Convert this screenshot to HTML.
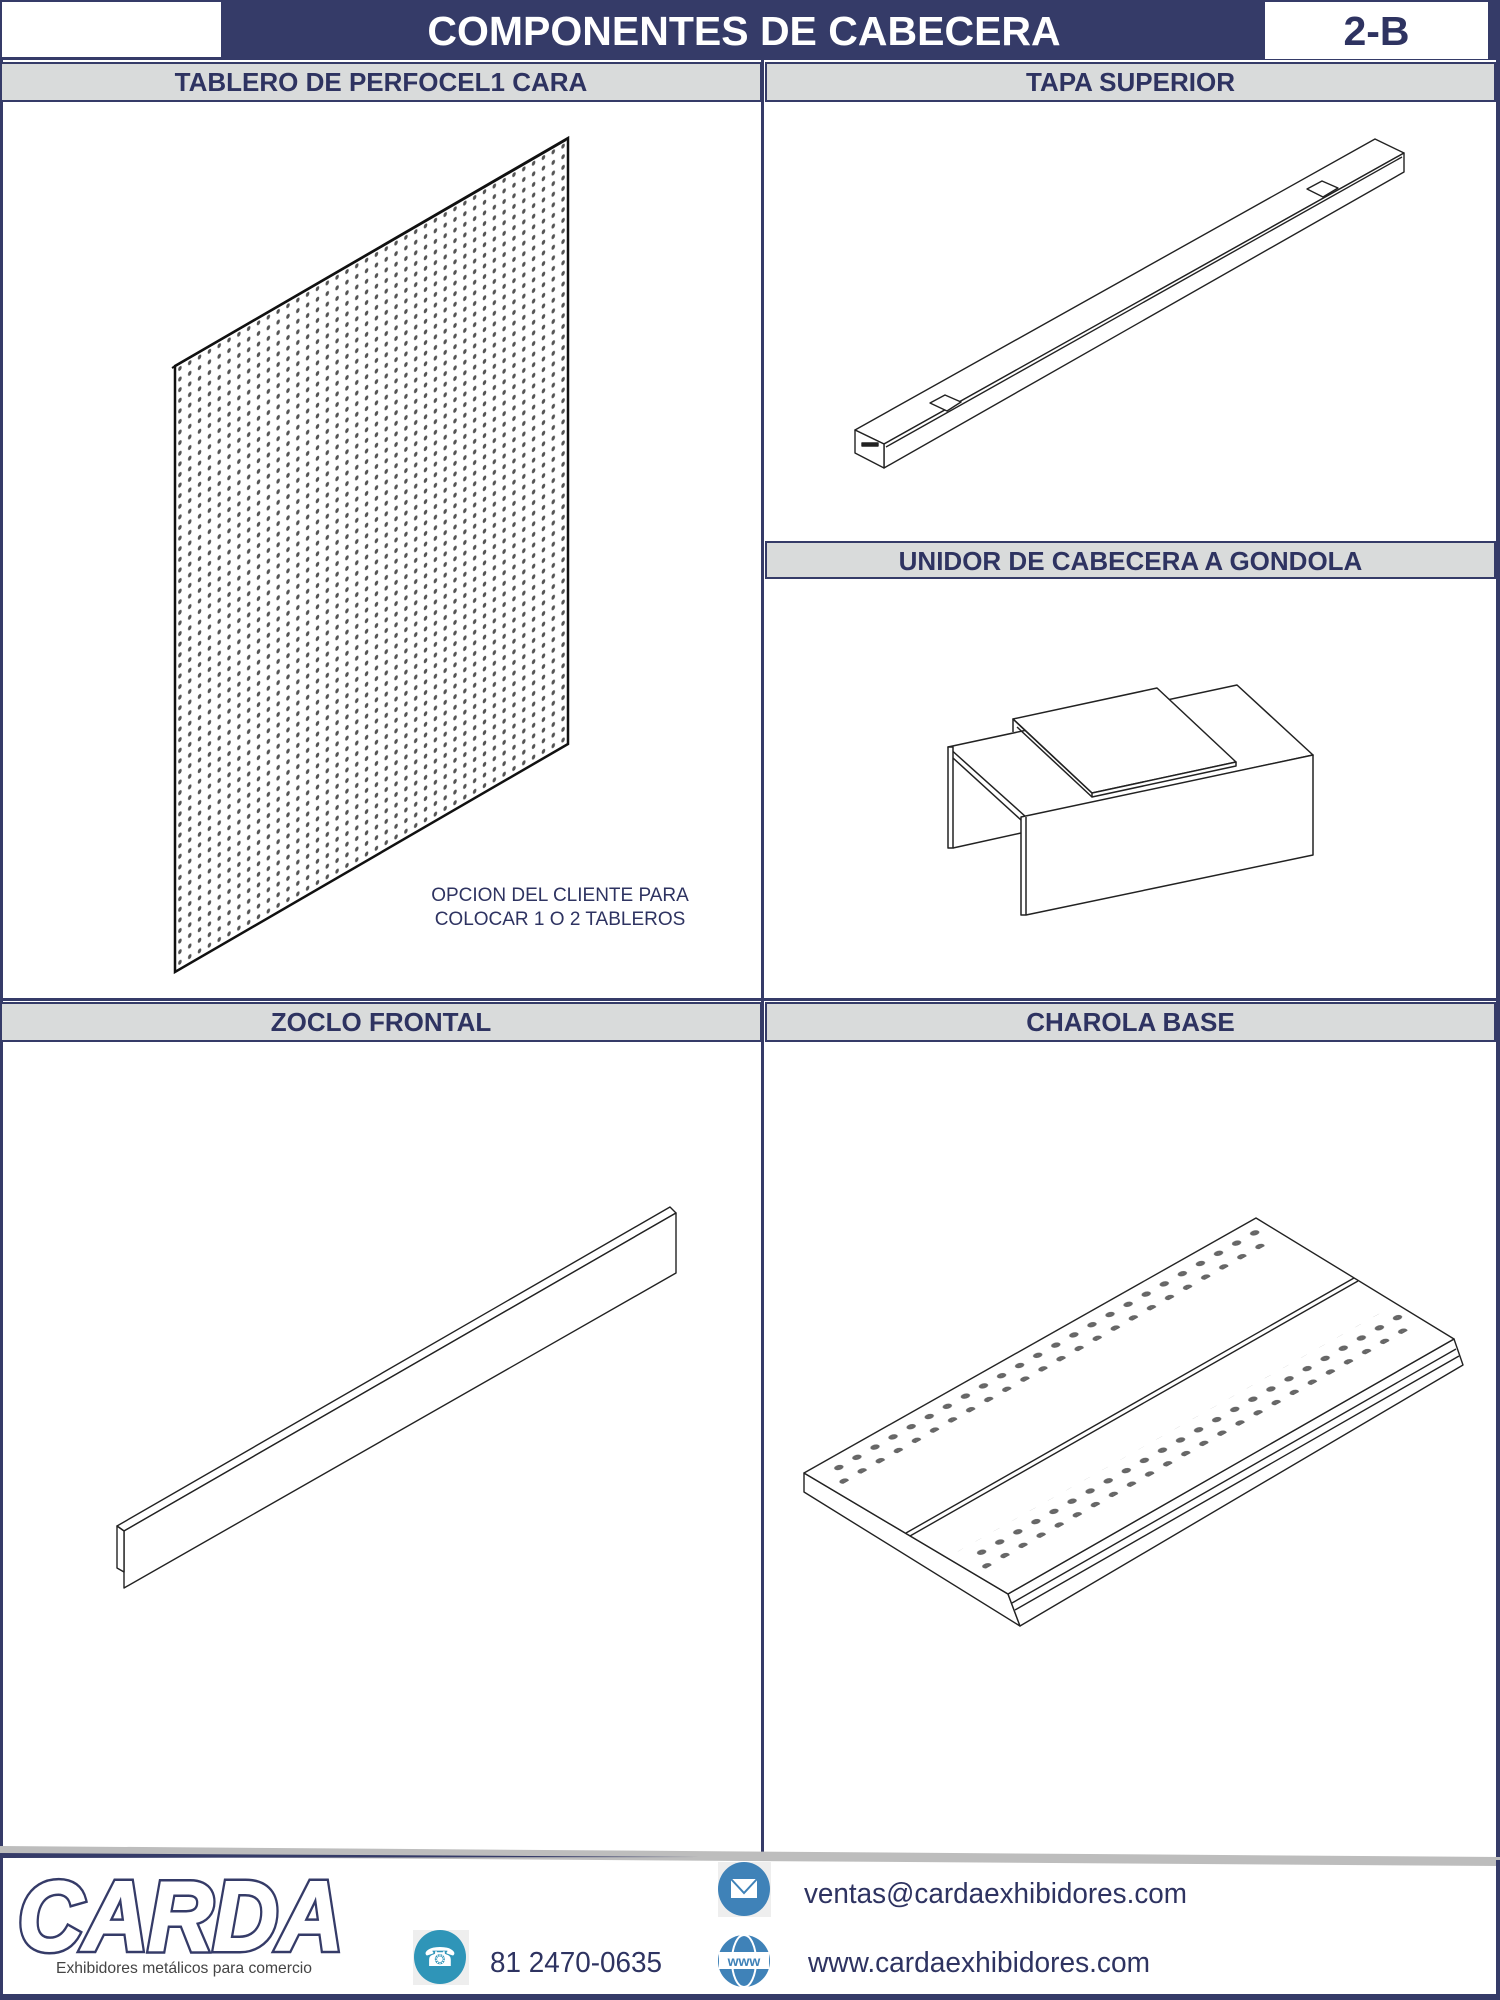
<!DOCTYPE html>
<html><head><meta charset="utf-8"><style>
html,body{margin:0;padding:0;background:#fff;}
body{width:1500px;height:2000px;position:relative;overflow:hidden;font-family:"Liberation Sans",sans-serif;}
.abs{position:absolute;}
.hdr{position:absolute;background:#d9dbdb;border:2px solid #353b68;box-sizing:border-box;color:#2e3361;font-weight:bold;font-size:26px;text-align:center;line-height:36px;}
</style></head><body>
<div class="abs" style="left:0;top:0;width:1500px;height:60px;background:#353b68;"></div>
<div class="abs" style="left:2px;top:2px;width:219px;height:55px;background:#fff;"></div>
<div class="abs" style="left:1265px;top:2px;width:223px;height:57px;background:#fff;"></div>
<div class="abs" style="left:223px;top:0;width:1042px;height:60px;color:#fff;font-weight:bold;font-size:41px;line-height:62px;text-align:center;">COMPONENTES DE CABECERA</div>
<div class="abs" style="left:1265px;top:0;width:223px;height:60px;color:#2e3361;font-weight:bold;font-size:41px;line-height:62px;text-align:center;">2-B</div>

<div class="abs" style="left:0;top:60px;width:3px;height:1792px;background:#353b68;"></div>
<div class="abs" style="left:1496px;top:60px;width:4px;height:1800px;background:#353b68;"></div>
<div class="abs" style="left:761px;top:60px;width:3px;height:1792px;background:#353b68;"></div>
<div class="abs" style="left:0;top:998px;width:1500px;height:3px;background:#353b68;"></div>

<div class="hdr" style="left:0;top:62px;width:762px;height:40px;">TABLERO DE PERFOCEL1 CARA</div>
<div class="hdr" style="left:765px;top:62px;width:731px;height:40px;">TAPA SUPERIOR</div>
<div class="hdr" style="left:765px;top:541px;width:731px;height:38px;">UNIDOR DE CABECERA A GONDOLA</div>
<div class="hdr" style="left:0;top:1002px;width:762px;height:40px;">ZOCLO FRONTAL</div>
<div class="hdr" style="left:765px;top:1002px;width:731px;height:40px;">CHAROLA BASE</div>

<div class="abs" style="left:380px;top:884px;width:360px;color:#2e3361;font-size:19px;line-height:24px;text-align:center;">OPCION DEL CLIENTE PARA<br>COLOCAR 1 O 2 TABLEROS</div>

<svg class="abs" style="left:0;top:0" width="1500" height="2000" viewBox="0 0 1500 2000">
<defs>
<pattern id="pf" patternUnits="userSpaceOnUse" width="2.5" height="1.75">
<ellipse cx="1.25" cy="0.87" rx="0.45" ry="0.38" fill="#555"/>
</pattern>
<pattern id="pc" patternUnits="userSpaceOnUse" width="4" height="14">
<ellipse cx="1" cy="6" rx="0.42" ry="0.95" fill="#fff" stroke="#666" stroke-width="0.8" vector-effect="non-scaling-stroke"/>
<ellipse cx="3" cy="13" rx="0.42" ry="0.95" fill="#fff" stroke="#666" stroke-width="0.8" vector-effect="non-scaling-stroke"/>
</pattern>
</defs>
<g transform="matrix(3.93,-2.28,0,6.06,175,366)">
<polygon points="0,0 100,0 100,100 0,100" fill="#fff"/>
<rect x="0.5" y="0.5" width="99" height="99" fill="url(#pf)"/>
<polygon points="0,0 100,0 100,100 0,100" fill="none" stroke="#111" stroke-width="2.5" vector-effect="non-scaling-stroke"/>
</g>
<line x1="172" y1="368" x2="566" y2="140" stroke="#111" stroke-width="2"/>

<g fill="#fff" stroke="#222" stroke-width="1.4" stroke-linejoin="round">
<polygon points="855,430 1375,139 1404,153 884,444"/>
<polygon points="884,444 1404,153 1404,172 884,468"/>
<polygon points="855,430 884,444 884,468 855,453"/>
<line x1="886" y1="447" x2="1402" y2="157"/>
<polygon points="930,403 945,395 961,402 947,411" />
<polygon points="1307,189 1322,181 1338,188 1323,197" />
<rect x="862" y="443" width="16" height="3" fill="#222"/>
</g>

<g fill="#fff" stroke="#222" stroke-width="1.5" stroke-linejoin="round">
<polygon points="948,747 1237,685 1313,755 1026,817"/>
<polygon points="1021,817 1313,755 1313,855 1026,915 1021,915"/>
<line x1="1026" y1="817" x2="1026" y2="915"/>
<polygon points="948,747 953,747 953,848 948,848"/>
<polyline points="953,758 1021,820" fill="none"/>
<polyline points="953,848 1021,833" fill="none"/>
<polygon points="1013,719 1157,688 1236,762 1092,793"/>
<polygon points="1013,719 1092,793 1092,797 1236,766 1236,762 1092,793" />
<polyline points="1013,719 1013,732" fill="none"/>
<polyline points="1017,727 1092,797" fill="none"/>
</g>

<g fill="#fff" stroke="#222" stroke-width="1.4" stroke-linejoin="round">
<polygon points="117,1526 670,1207 676,1213 124,1531"/>
<polygon points="124,1531 676,1213 676,1273 124,1588"/>
<polygon points="117,1526 124,1531 124,1572 117,1568"/>
</g>

<g fill="#fff" stroke="#222" stroke-width="1.4" stroke-linejoin="round">
<polygon points="804,1473 804,1492 1020,1626 1008,1594"/>
<polygon points="1008,1594 1454,1339 1463,1365 1020,1626"/>
<polygon points="804,1473 1256,1218 1454,1339 1008,1594"/>
<line x1="906" y1="1533" x2="1354" y2="1278"/>
<line x1="910" y1="1536" x2="1358" y2="1281"/>
<line x1="1012" y1="1603" x2="1456" y2="1349"/>
<line x1="1015" y1="1610" x2="1459" y2="1356"/>
</g>
<g transform="matrix(4.52,-2.55,2.04,1.21,804,1473)">
<rect x="2" y="0" width="96" height="14" fill="url(#pc)"/>
<rect x="2" y="70" width="96" height="14" fill="url(#pc)"/>
</g>

<polygon points="0,1846 1500,1857 1500,1866 0,1856" fill="#bdbdbd"/>
<polygon points="0,1853 700,1857 0,1858" fill="#353b68"/>
<rect x="0" y="1994" width="1500" height="6" fill="#353b68"/>
<rect x="0" y="1856" width="3" height="140" fill="#353b68"/>
<rect x="1496" y="1860" width="4" height="136" fill="#353b68"/>

<text x="18" y="1950" font-family="Liberation Sans" font-weight="bold" font-style="italic" font-size="98" fill="#fff" stroke="#353b68" stroke-width="7" textLength="325" lengthAdjust="spacingAndGlyphs">CARDA</text>
<text x="18" y="1950" font-family="Liberation Sans" font-weight="bold" font-style="italic" font-size="98" fill="#fff" stroke="#fff" stroke-width="2" textLength="325" lengthAdjust="spacingAndGlyphs">CARDA</text>
<text x="56" y="1973" font-family="Liberation Sans" font-size="16" fill="#444" textLength="256" lengthAdjust="spacingAndGlyphs">Exhibidores metálicos para comercio</text>

<rect x="413" y="1930" width="56" height="55" fill="#eeeeee"/>
<ellipse cx="440" cy="1957" rx="26" ry="27" fill="#2f95b8"/>
<text x="440" y="1966" font-size="26" text-anchor="middle" fill="#fff">☎</text>
<text x="490" y="1972" font-family="Liberation Sans" font-size="29" fill="#2e3361" textLength="172" lengthAdjust="spacingAndGlyphs">81 2470-0635</text>

<rect x="718" y="1862" width="53" height="55" fill="#eeeeee"/>
<ellipse cx="744" cy="1889" rx="26" ry="27" fill="#3f82b8"/>
<rect x="731" y="1879" width="26" height="19" fill="#fff"/>
<polyline points="731,1879 744,1893 757,1879" fill="none" stroke="#3f82b8" stroke-width="2"/>
<text x="804" y="1903" font-family="Liberation Sans" font-size="29" fill="#2e3361" textLength="383" lengthAdjust="spacingAndGlyphs">ventas@cardaexhibidores.com</text>

<circle cx="744" cy="1961" r="26" fill="#3f82b8"/>
<ellipse cx="744" cy="1961" rx="12" ry="26" fill="none" stroke="#fff" stroke-width="2"/>
<rect x="719" y="1952" width="50" height="17" fill="#fff"/>
<text x="744" y="1966" font-family="Liberation Sans" font-weight="bold" font-size="14" text-anchor="middle" fill="#3f82b8">www</text>
<text x="808" y="1972" font-family="Liberation Sans" font-size="29" fill="#2e3361" textLength="342" lengthAdjust="spacingAndGlyphs">www.cardaexhibidores.com</text>
</svg>
</body></html>
